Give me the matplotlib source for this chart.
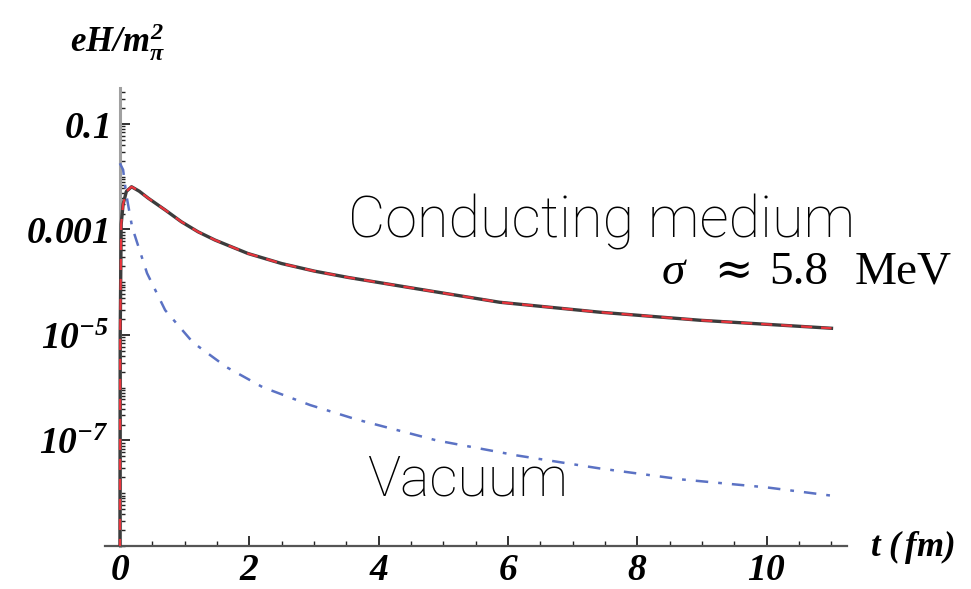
import matplotlib
matplotlib.use("Agg")
import matplotlib.pyplot as plt
from matplotlib.ticker import FixedLocator, FixedFormatter, NullFormatter

BI = 'Liberation Serif:style=italic:weight=bold'
plt.rcParams['mathtext.fontset'] = 'custom'
plt.rcParams['mathtext.rm'] = BI
plt.rcParams['mathtext.it'] = BI
plt.rcParams['mathtext.bf'] = BI

# ---- data ----
t_cond = [0.0, 0.005, 0.02, 0.05, 0.1, 0.18, 0.3, 0.44, 0.70, 0.95, 1.21,
          1.47, 1.98, 2.50, 3.01, 3.53, 4.48, 5.87, 7.42, 8.97, 11.0]
h_cond = [1e-10, 1e-5, 1.26e-3, 3.0e-3, 5.25e-3, 6.45e-3, 5.3e-3, 3.9e-3,
          2.34e-3, 1.40e-3, 9.0e-4, 6.3e-4, 3.5e-4, 2.26e-4, 1.62e-4,
          1.23e-4, 7.9e-5, 4.17e-5, 2.7e-5, 1.9e-5, 1.34e-5]

t_vac = [0.0, 0.05, 0.1, 0.19, 0.42, 0.70, 1.13, 1.65, 2.21, 2.94, 3.66,
         4.9, 6.14, 7.42, 8.70, 10.0, 11.0]
h_vac = [1.8e-2, 1.35e-2, 4.5e-3, 1.1e-3, 1.48e-4, 2.95e-5, 7.2e-6,
         2.45e-6, 1.02e-6, 4.7e-7, 2.5e-7, 1.0e-7, 5.2e-8, 2.95e-8,
         1.82e-8, 1.29e-8, 9.0e-9]

x_ticks = [0, 2, 4, 6, 8, 10]
x_tick_labels = ['0', '2', '4', '6', '8', '10']
y_ticks = [1e-1, 1e-3, 1e-5, 1e-7]
y_tick_labels = ['0.1', '0.001', '10^{-5}', '10^{-7}']

# ---- figure ----
W, H = 971, 589
fig = plt.figure(figsize=(W / 100, H / 100), dpi=100)
ax = fig.add_axes([105 / W, 43 / H, 742 / W, 458 / H])
ax.set_yscale('log')
ax.set_xlim(-0.23, 11.24)
ax.set_ylim(1e-9, 0.48)

ax.plot(t_cond, h_cond, color='#3c3c3c', lw=2.4, solid_joinstyle='round', zorder=3)
ax.plot(t_cond, h_cond, color='#e8343c', lw=1.6, dashes=(5, 4), zorder=4)
ax.plot(t_vac, h_vac, color='#5b72c4', lw=1.8, dashes=(5, 4, 1.5, 4), zorder=3)

for s in ['top', 'right']:
    ax.spines[s].set_visible(False)
ax.spines['left'].set_position(('data', 0))
ax.spines['left'].set_color('#a0a0a0')
ax.spines['left'].set_linewidth(2.2)
ax.spines['bottom'].set_color('#555555')
ax.spines['bottom'].set_linewidth(1.6)

ax.xaxis.set_major_locator(FixedLocator(x_ticks))
ax.xaxis.set_major_formatter(FixedFormatter([r'$%s$' % s for s in x_tick_labels]))
ax.xaxis.set_minor_locator(FixedLocator([i * 0.5 for i in range(1, 23) if i % 4 != 0]))

ax.yaxis.set_major_locator(FixedLocator(y_ticks))
ax.yaxis.set_major_formatter(FixedFormatter([r'$%s$' % s for s in y_tick_labels]))
minors = []
for k in range(-9, 0):
    for s in range(1, 10):
        v = s * 10.0 ** k
        if not any(abs(v - m) / m < 1e-6 for m in y_ticks):
            minors.append(v)
ax.yaxis.set_minor_locator(FixedLocator(minors))
ax.yaxis.set_minor_formatter(NullFormatter())

ax.tick_params(which='both', direction='in', color='#222222')
ax.tick_params(which='major', length=7, width=1.3, labelsize=27, pad=8)
ax.tick_params(which='minor', length=3.5, width=1.0)
ax.tick_params(axis='x', which='major', pad=4)

fig.text(117 / W, 1 - 42 / H, r'$eH/m_\pi^2$', ha='center', va='center', size=25)
fig.text(870 / W, 1 - 547 / H, r'$t\ (\,fm)$', ha='left', va='center', size=25)

# sigma annotation, pieces placed as in the reference
ser = 'Liberation Serif'
ybase = 1 - 284 / H
fig.text(662 / W, ybase, 'σ', ha='left', va='baseline', size=34, family=ser, style='italic')
fig.text(714 / W, ybase, '≈', ha='left', va='baseline', size=33, family='DejaVu Serif')
fig.text(769 / W, ybase, '5.8', ha='left', va='baseline', size=34, family=ser)
fig.text(855 / W, ybase, 'MeV', ha='left', va='baseline', size=34, family=ser)

fig.text(348 / W, 1 - 237 / H, 'Conducting medium', ha='left', va='baseline',
         size=41.5, family='Roboto', weight='light')
fig.text(367 / W, 1 - 495 / H, 'Vacuum', ha='left', va='baseline',
         size=40, family='Roboto', weight='light')

fig.savefig('out.png', dpi=100)
